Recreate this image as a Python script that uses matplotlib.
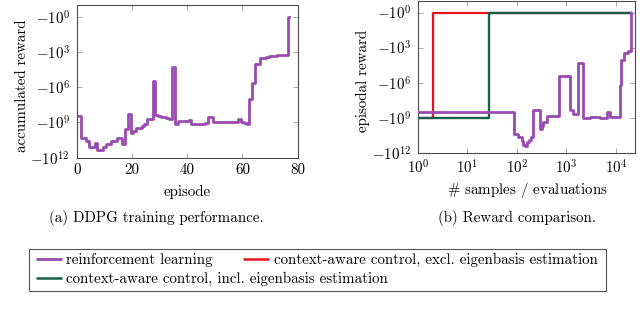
import numpy as np
import matplotlib
matplotlib.use("Agg")
import matplotlib.pyplot as plt
from matplotlib.lines import Line2D
from matplotlib.patches import Rectangle
from matplotlib.ticker import FixedLocator, NullLocator

plt.rcParams['font.family'] = ['cmr10', 'DejaVu Serif']
plt.rcParams['mathtext.fontset'] = 'cm'
plt.rcParams['axes.formatter.use_mathtext'] = True

# ---------------- data ----------------
# (a) DDPG training: accumulated reward per episode (episodes 1..77)
rl_episodes = list(range(1, 78))
rl_reward = [
    -2.7e8, -2.0e10, -2.0e10, -4.0e10, -1.15e11, -1.15e11, -5.6e10, -2.3e11, -2.3e11, -1.26e11,
    -7.2e10, -7.2e10, -4.0e10, -3.5e10, -2.2e10, -2.2e10, -6.3e10, -3.7e9, -1.95e8, -7.2e9,
    -5.6e9, -3.2e9, -2.8e9, -2.0e9, -1.26e9, -5.1e8, -5.1e8, -2.7e5, -2.3e8, -2.8e8,
    -3.2e8, -3.5e8, -4.0e8, -5.1e8, -1.95e4, -1.23e9, -8.1e8, -8.1e8, -8.1e8, -8.1e8,
    -6.3e8, -1.23e9, -1.23e9, -1.26e9, -1.26e9, -1.23e9, -1.12e9, -3.7e8, -3.1e8, -8.7e8,
    -8.7e8, -8.5e8, -8.7e8, -8.9e8, -8.7e8, -8.5e8, -8.7e8, -8.9e8, -5.0e8, -1.0e9,
    -1.12e9, -1.38e9, -1.0e7, -4.6e5, -1.12e4, -1.12e4, -3.0e3, -3.0e3, -2.8e3, -2.1e3,
    -2.1e3, -2.0e3, -1.78e3, -1.78e3, -1.74e3, -1.7e3, -1.0,
]

# (b) reward comparison over number of samples / evaluations
rl_samples = [1, 88, 107, 124, 134, 147, 157, 178, 190, 210, 290, 316, 340, 397,
              700, 1190, 1380, 1700, 2190, 2950, 4770, 6620, 7560, 11800, 12900,
              14500, 17700, 19800]
rl_sample_reward = [-2.9e8, -2.3e10, -4.6e10, -8.7e10, -1.95e11, -2.7e11, -1.23e11,
                    -7.9e10, -4.6e10, -2.0e8, -8.7e9, -4.6e9, -2.3e9, -6.3e8,
                    -2.9e5, -2.3e8, -4.6e8, -2.1e4, -1.0e9, -7.8e8, -1.0e9,
                    -3.2e8, -7.8e8, -1.7e6, -1.23e4, -2.9e3, -1.95e3, -1.0]

excl_evals = [1, 2, 19800]
excl_reward = [-1.0e9, -1.0, -1.0]
incl_evals = [1, 27, 19800]
incl_reward = [-1.1e9, -1.0, -1.0]

y_exponents = [0, 3, 6, 9, 12]
x_left_ticks = [0, 20, 40, 60, 80]
x_right_exponents = [0, 1, 2, 3, 4]

labels = ["reinforcement learning",
          "context-aware control, excl. eigenbasis estimation",
          "context-aware control, incl. eigenbasis estimation"]

c_rl = '#9a4bb0'
c_excl = '#e8141c'
c_incl = '#16604a'

FS = 10.8
W, H = 640, 311

fig = plt.figure(figsize=(6.4, 3.11), dpi=100)

def px_axes(l, r, t, b):
    return [l / W, 1 - b / H, (r - l) / W, (b - t) / H]

axL = fig.add_axes(px_axes(76.7, 297.7, 4.7, 157.7))
axR = fig.add_axes(px_axes(418, 635, 0.5, 153))

def style(ax):
    for s in ax.spines.values():
        s.set_color('#4a4a4a')
        s.set_linewidth(0.8)
    ax.tick_params(which='both', direction='in', top=True, right=True,
                   length=3.5, width=0.6, color='#999999', labelsize=FS)
    ax.tick_params(axis='x', pad=4)
    ax.tick_params(axis='y', pad=5)
    ax.set_yscale('log')
    ax.set_ylim(1e12, 10 ** -1.03)
    ax.yaxis.set_major_locator(FixedLocator([10.0 ** e for e in y_exponents]))
    ax.yaxis.set_minor_locator(NullLocator())
    ax.set_yticklabels([r'$-10^{%d}$' % e for e in y_exponents])

# ---- left ----
axL.step(rl_episodes, [-r for r in rl_reward], where='mid', color=c_rl, lw=2.0, zorder=4)
style(axL)
axL.set_xlim(0, 80)
axL.set_xticks(x_left_ticks)
axL.set_xticklabels([str(t) for t in x_left_ticks])
axL.set_xlabel('episode', fontsize=FS, va='center')
axL.xaxis.set_label_coords(0.5, (157.7 - 192) / 153)
axL.set_ylabel('accumulated reward', fontsize=FS, va='center')
axL.yaxis.set_label_coords((21.7 - 76.7) / 221, 0.47)

# ---- right ----
axR.step(excl_evals, [-r for r in excl_reward], where='post', color=c_excl, lw=1.6, zorder=2)
axR.step(incl_evals, [-r for r in incl_reward], where='post', color=c_incl, lw=1.7, zorder=3)
axR.step(rl_samples, [-r for r in rl_sample_reward], where='post', color=c_rl, lw=2.0, zorder=4)
axR.set_xscale('log')
style(axR)
axR.set_xlim(1, 10 ** 4.384)
axR.xaxis.set_major_locator(FixedLocator([10.0 ** e for e in x_right_exponents]))
axR.xaxis.set_minor_locator(NullLocator())
axR.set_xticklabels([r'$10^{%d}$' % e for e in x_right_exponents])
axR.set_xlabel(r'$\#$ samples / evaluations', fontsize=FS, va='center')
axR.xaxis.set_label_coords((528 - 418) / 217, (153 - 190) / 152.5)
axR.set_ylabel('episodal reward', fontsize=FS, va='center')
axR.yaxis.set_label_coords((363.3 - 418) / 217, 0.47)

# captions
fig.text(156 / W, 1 - 218 / H, '(a) DDPG training performance.', ha='center', va='center', fontsize=FS)
fig.text(517 / W, 1 - 218 / H, '(b) Reward comparison.', ha='center', va='center', fontsize=FS)

# legend frame
bl, br, bt, bb = 29.3, 606, 248.7, 291
fig.patches.append(Rectangle((bl / W, 1 - bb / H), (br - bl) / W, (bb - bt) / H,
                             transform=fig.transFigure, facecolor='white',
                             edgecolor='#555555', lw=0.8, zorder=1))

h_rl = Line2D([], [], color=c_rl, lw=2.0, solid_capstyle='butt')
h_excl = Line2D([], [], color=c_excl, lw=1.8, solid_capstyle='butt')
h_incl = Line2D([], [], color=c_incl, lw=1.8, solid_capstyle='butt')

hl = 26 / (FS * 100 / 72)
for h, lab, x, y in [(h_rl, labels[0], 35.7, 260.3),
                     (h_excl, labels[1], 243, 260.3),
                     (h_incl, labels[2], 35.7, 279.3)]:
    leg = fig.legend([h], [lab], loc='center left', bbox_to_anchor=(x / W, 1 - y / H),
                     frameon=False, fontsize=FS, borderpad=0, borderaxespad=0,
                     handlelength=hl, handletextpad=0.3)
    leg.set_zorder(5)

fig.savefig('out.png', dpi=100)
